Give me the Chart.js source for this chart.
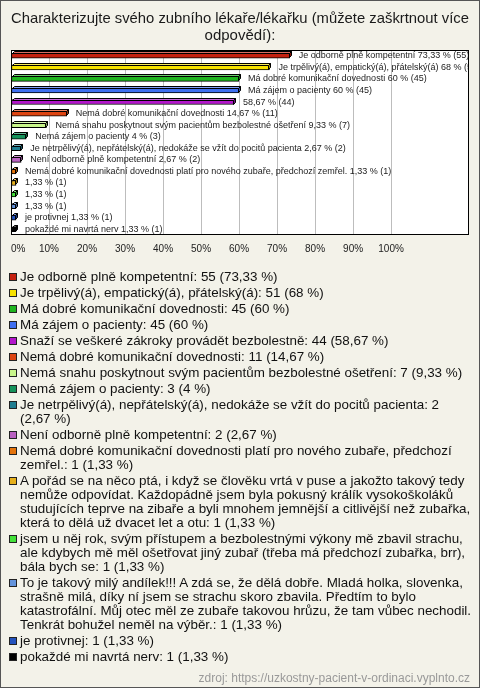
<!DOCTYPE html>
<html lang="cs">
<head>
<meta charset="utf-8">
<script src="https://cdn.jsdelivr.net/npm/chart.js@4.4.0/dist/chart.umd.min.js"></script>
<style>
    html, body { margin: 0; padding: 0; }
    body { width: 480px; height: 688px; background: #f3f2e9; font-family: "Liberation Sans", Arial, sans-serif; }
    #wrap { position: relative; width: 480px; height: 688px; box-sizing: border-box; border: 1px solid #555; overflow: hidden; }
    #chartBox { position: absolute; left: -1px; top: -1px; width: 480px; height: 270px; }
    #legend { position: absolute; left: 8px; top: 269px; width: 464px; }
    .item { display: flex; align-items: flex-start; font-size: 13.4px; line-height: 14px; color: #111; margin-bottom: 2px; }
    .box { flex: none; width: 6px; height: 6px; border: 1px solid #222; margin: 3px 3px 0 0; }
    #source { position: absolute; right: 9px; bottom: 2px; font-size: 12px; color: #999; }
</style>
</head>
<body>
<div id="wrap">
    <div id="chartBox"><canvas id="barChart" width="480" height="270"></canvas></div>
    <div id="legend"></div>
    <div id="source">zdroj: https://uzkostny-pacient-v-ordinaci.vyplnto.cz</div>
</div>
<script>
// odpovědi (plné znění do legendy)
const categories = [
    "Je odborně plně kompetentní",
    "Je trpělivý(á), empatický(á), přátelský(á)",
    "Má dobré komunikační dovednosti",
    "Má zájem o pacienty",
    "Snaží se veškeré zákroky provádět bezbolestně",
    "Nemá dobré komunikační dovednosti",
    "Nemá snahu poskytnout svým pacientům bezbolestné ošetření",
    "Nemá zájem o pacienty",
    "Je netrpělivý(á), nepřátelský(á), nedokáže se vžít do pocitů pacienta",
    "Není odborně plně kompetentní",
    "Nemá dobré komunikační dovednosti platí pro nového zubaře, předchozí zemřel.",
    "A pořád se na něco ptá, i když se člověku vrtá v puse a jakožto takový tedy nemůže odpovídat. Každopádně jsem byla pokusný králík vysokoškoláků studujících teprve na zibaře a byli mnohem jemnější a citlivější než zubařka, která to dělá už dvacet let a otu",
    "jsem u něj rok, svým přístupem a bezbolestnými výkony mě zbavil strachu, ale kdybych mě měl ošetřovat jiný zubař (třeba má předchozí zubařka, brr), bála bych se",
    "To je takový milý andílek!!! A zdá se, že dělá dobře. Mladá holka, slovenka, strašně milá, díky ní jsem se strachu skoro zbavila. Předtím to bylo katastrofální. Můj otec měl ze zubaře takovou hrůzu, že tam vůbec nechodil. Tenkrát bohužel neměl na výběr.",
    "je protivnej",
    "pokaždé mi navrtá nerv"
];

// popisky přímo u sloupců (dlouhé texty graf vynechává)
const barLabels = [
    "Je odborně plně kompetentní",
    "Je trpělivý(á), empatický(á), přátelský(á)",
    "Má dobré komunikační dovednosti",
    "Má zájem o pacienty",
    "",
    "Nemá dobré komunikační dovednosti",
    "Nemá snahu poskytnout svým pacientům bezbolestné ošetření",
    "Nemá zájem o pacienty",
    "Je netrpělivý(á), nepřátelský(á), nedokáže se vžít do pocitů pacienta",
    "Není odborně plně kompetentní",
    "Nemá dobré komunikační dovednosti platí pro nového zubaře, předchozí zemřel.",
    "",
    "",
    "",
    "je protivnej",
    "pokaždé mi navrtá nerv"
];

const counts = [55, 51, 45, 45, 44, 11, 7, 3, 2, 2, 1, 1, 1, 1, 1, 1];
const percents = [73.33, 68, 60, 60, 58.67, 14.67, 9.33, 4, 2.67, 2.67, 1.33, 1.33, 1.33, 1.33, 1.33, 1.33];

const colors = [
    "#c4200f", "#f7e200", "#1eb41e", "#3f6ff0",
    "#b316cb", "#dd4411", "#c8f58a", "#14925a",
    "#1f7d90", "#b961c0", "#e4740c", "#e6b01c",
    "#43e23a", "#6494dc", "#2453bd", "#000000"
];

const xTicks = [0, 10, 20, 30, 40, 50, 60, 70, 80, 90, 100];

const fmt = (v) => String(v).replace(".", ",");

// zesvětlení / ztmavení barvy pro 3D stěny
const shade = (hex, f) => {
    const n = parseInt(hex.slice(1), 16);
    let r = n >> 16, g = (n >> 8) & 255, b = n & 255;
    const mix = (c) => f > 0 ? Math.round(c + (255 - c) * f) : Math.round(c * (1 + f));
    return "rgb(" + mix(r) + "," + mix(g) + "," + mix(b) + ")";
};

// bílá plocha grafu + rámeček
const plotFrame = {
    id: "plotFrame",
    beforeDraw(chart) {
        const { ctx, chartArea: a } = chart;
        ctx.save();
        ctx.fillStyle = "#ffffff";
        ctx.fillRect(a.left, a.top, a.right - a.left, a.bottom - a.top);
        ctx.restore();
    },
    afterDraw(chart) {
        const { ctx, chartArea: a } = chart;
        ctx.save();
        ctx.strokeStyle = "#000";
        ctx.lineWidth = 1;
        ctx.strokeRect(Math.round(a.left) + 0.5, Math.round(a.top) + 0.5,
            Math.round(a.right - a.left) - 1, Math.round(a.bottom - a.top) - 1);
        ctx.restore();
    }
};

// 3D hrany sloupců + texty za nimi
const DEPTH = 2;
const barText = {
    id: "barText",
    afterDatasetsDraw(chart) {
        const { ctx, chartArea: a } = chart;
        const meta = chart.getDatasetMeta(0);
        ctx.save();
        ctx.lineWidth = 1;
        ctx.strokeStyle = "#000";
        meta.data.forEach((bar, i) => {
            const h = bar.height;
            const top = Math.round(bar.y - h / 2) + 0.5;
            const bot = top + h - 1;
            const x0 = Math.round(bar.base) + 0.5;
            const x1 = Math.round(bar.x) - 0.5;
            ctx.fillStyle = shade(colors[i], 0.35);
            ctx.beginPath();
            ctx.moveTo(x0, top);
            ctx.lineTo(x0 + DEPTH, top - DEPTH);
            ctx.lineTo(x1 + DEPTH, top - DEPTH);
            ctx.lineTo(x1, top);
            ctx.closePath();
            ctx.fill();
            ctx.stroke();
            ctx.fillStyle = shade(colors[i], -0.35);
            ctx.beginPath();
            ctx.moveTo(x1, top);
            ctx.lineTo(x1 + DEPTH, top - DEPTH);
            ctx.lineTo(x1 + DEPTH, bot - DEPTH);
            ctx.lineTo(x1, bot);
            ctx.closePath();
            ctx.fill();
            ctx.stroke();
        });

        ctx.beginPath();
        ctx.rect(a.left, a.top, a.right - a.left - 1, a.bottom - a.top);
        ctx.clip();
        ctx.font = '9px "Liberation Sans", Arial, sans-serif';
        ctx.fillStyle = "#222";
        ctx.textBaseline = "middle";
        ctx.textAlign = "left";
        meta.data.forEach((bar, i) => {
            const lbl = barLabels[i];
            const txt = (lbl ? lbl + " " : "") + fmt(percents[i]) + " % (" + counts[i] + ")";
            ctx.fillText(txt, bar.x + 9, bar.y);
        });
        ctx.restore();
    }
};

const ctx = document.getElementById("barChart").getContext("2d");

new Chart(ctx, {
    type: "bar",
    data: {
        labels: categories,
        datasets: [{
            data: percents,
            backgroundColor: colors,
            borderColor: "#000",
            borderWidth: 1,
            borderSkipped: false,
            barThickness: 5
        }]
    },
    options: {
        indexAxis: "y",
        responsive: false,
        animation: false,
        layout: { padding: { left: 11, right: 11, top: 0, bottom: 7 } },
        scales: {
            x: {
                min: 0,
                max: 120.5,
                border: { display: false },
                grid: {
                    drawTicks: false,
                    color: (c) => (c.tick && c.tick.value > 0 && c.tick.value <= 100) ? "#bdbdbd" : "transparent"
                },
                ticks: {
                    stepSize: 10,
                    autoSkip: false,
                    maxRotation: 0,
                    align: "inner",
                    padding: 8,
                    color: "#222",
                    font: { family: '"Liberation Sans", Arial, sans-serif', size: 10 },
                    callback: (v) => xTicks.includes(v) ? v + "%" : ""
                }
            },
            y: { display: false, offset: true }
        },
        plugins: {
            legend: { display: false },
            tooltip: { enabled: false },
            title: {
                display: true,
                text: ["Charakterizujte svého zubního lékaře/lékařku (můžete zaškrtnout více", "odpovědí):"],
                color: "#1a1a1a",
                font: { family: '"Liberation Sans", Arial, sans-serif', size: 15, weight: "normal", lineHeight: 1.1 },
                padding: { top: 11, bottom: 6 }
            }
        }
    },
    plugins: [plotFrame, barText]
});

// legenda pod grafem
const legendEl = document.getElementById("legend");
categories.forEach((name, i) => {
    const item = document.createElement("div");
    item.className = "item";
    const box = document.createElement("span");
    box.className = "box";
    box.style.background = colors[i];
    const txt = document.createElement("span");
    txt.textContent = name + ": " + counts[i] + " (" + fmt(percents[i]) + " %)";
    item.appendChild(box);
    item.appendChild(txt);
    legendEl.appendChild(item);
});
</script>
</body>
</html>
